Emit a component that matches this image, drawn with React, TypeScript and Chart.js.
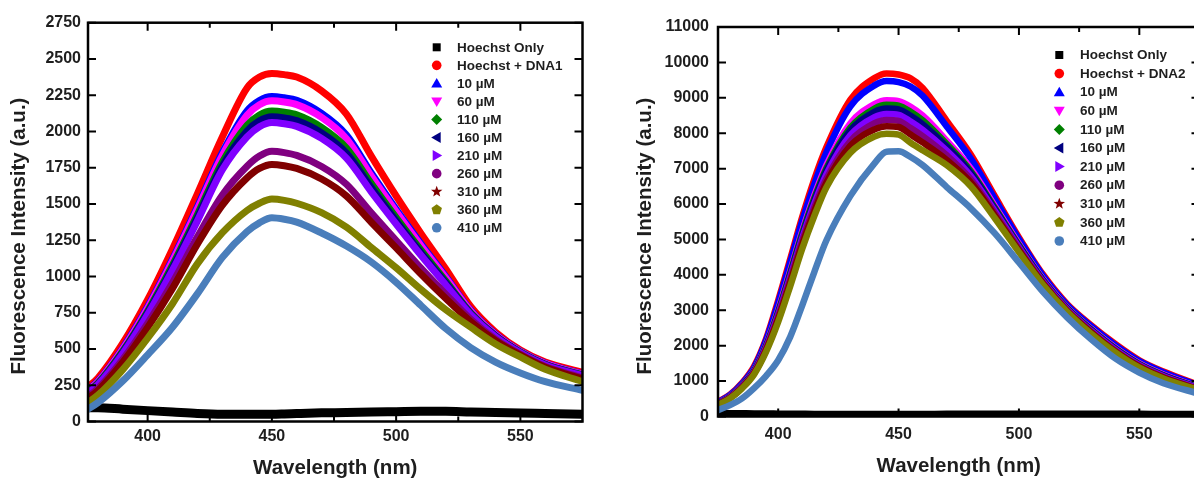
import React, { useEffect, useRef } from 'react';
import { Chart, registerables } from 'chart.js';

Chart.register(...registerables);

const FONT_FAMILY = '"Liberation Sans", Arial, Helvetica, sans-serif';
const TEXT_COLOR = '#1e1e1e';

// Wavelength grids (nm)
const WAVELENGTHS_LEFT = [375, 380, 390, 400, 410, 420, 430, 440, 445, 450, 455, 460, 470, 480, 490, 500, 510, 520, 530, 540, 550, 560, 575];
const WAVELENGTHS_RIGHT = [375, 380, 385, 390, 395, 400, 405, 410, 415, 420, 430, 440, 445, 450, 455, 460, 470, 480, 490, 500, 510, 520, 530, 540, 550, 560, 575];

const X_TICKS = [400, 450, 500, 550];
const X_MINOR_TICKS = [425, 475, 525];
const Y_TICKS_LEFT = [0, 250, 500, 750, 1000, 1250, 1500, 1750, 2000, 2250, 2500, 2750];
const Y_TICKS_RIGHT = [0, 1000, 2000, 3000, 4000, 5000, 6000, 7000, 8000, 9000, 10000, 11000];

const X_TITLE = 'Wavelength (nm)';
const Y_TITLE = 'Fluorescence Intensity (a.u.)';

const LABELS_LEFT = ['Hoechst Only', 'Hoechst + DNA1', '10 µM', '60 µM', '110 µM', '160 µM', '210 µM', '260 µM', '310 µM', '360 µM', '410 µM'];
const LABELS_RIGHT = ['Hoechst Only', 'Hoechst + DNA2', '10 µM', '60 µM', '110 µM', '160 µM', '210 µM', '260 µM', '310 µM', '360 µM', '410 µM'];

const SERIES_COLORS = ['#000000', '#ff0000', '#0000ff', '#ff00ff', '#008000', '#000080', '#8000ff', '#800080', '#800000', '#808000', '#4a7ebb'];
const SERIES_SHAPES = ['square', 'circle', 'triUp', 'triDown', 'diamond', 'triLeft', 'triRight', 'circle', 'star', 'pentagon', 'circle'];

// Left panel (DNA1)
const L_HOECHST = [95, 95, 85, 75, 65, 55, 50, 50, 50, 50, 52, 55, 60, 62, 66, 68, 70, 70, 65, 62, 58, 55, 50];
const L_DNA1 = [225, 300, 540, 840, 1190, 1570, 1960, 2300, 2375, 2400, 2392, 2375, 2280, 2120, 1830, 1555, 1297, 1052, 793, 617, 493, 410, 340];
const L_10 = [205, 278, 506, 791, 1120, 1480, 1852, 2142, 2214, 2241, 2232, 2215, 2125, 1976, 1714, 1464, 1226, 1000, 767, 602, 484, 401, 328];
const L_60 = [202, 274, 500, 782, 1108, 1465, 1834, 2112, 2184, 2211, 2203, 2185, 2097, 1950, 1693, 1447, 1213, 991, 762, 599, 483, 399, 326];
const L_110 = [194, 265, 486, 761, 1078, 1426, 1787, 2043, 2114, 2141, 2133, 2115, 2028, 1886, 1641, 1406, 1181, 967, 750, 592, 479, 395, 320];
const L_160 = [189, 259, 478, 749, 1060, 1404, 1761, 2003, 2073, 2101, 2093, 2075, 1990, 1851, 1613, 1384, 1163, 955, 744, 589, 476, 393, 318];
const L_210 = [184, 254, 469, 737, 1043, 1382, 1734, 1963, 2033, 2062, 2053, 2035, 1952, 1816, 1584, 1362, 1146, 942, 737, 585, 474, 390, 315];
const L_260 = [160, 227, 428, 676, 957, 1272, 1560, 1760, 1830, 1863, 1854, 1835, 1759, 1636, 1439, 1248, 1057, 877, 704, 566, 463, 379, 300];
const L_310 = [149, 214, 409, 648, 918, 1222, 1490, 1680, 1745, 1773, 1764, 1745, 1672, 1555, 1374, 1197, 1017, 848, 689, 558, 458, 374, 293];
const L_360 = [120, 181, 358, 574, 812, 1087, 1300, 1455, 1505, 1534, 1525, 1505, 1440, 1340, 1200, 1060, 910, 770, 650, 535, 445, 360, 275];
const L_410 = [75, 130, 280, 460, 650, 880, 1130, 1310, 1370, 1405, 1395, 1375, 1300, 1210, 1100, 960, 800, 640, 510, 410, 335, 275, 215];

// Right panel (DNA2)
const R_HOECHST = [70, 60, 55, 50, 48, 45, 42, 40, 38, 35, 35, 35, 35, 35, 35, 35, 40, 40, 40, 45, 45, 45, 40, 40, 40, 35, 35];
const R_DNA2 = [410, 620, 950, 1420, 2200, 3280, 4450, 5640, 6700, 7600, 8950, 9560, 9690, 9660, 9550, 9280, 8350, 7400, 6220, 5060, 4010, 3180, 2580, 2050, 1590, 1270, 880];
const R_10 = [400, 606, 930, 1374, 2154, 3204, 4356, 5527, 6560, 7455, 8760, 9351, 9474, 9445, 9320, 9057, 8191, 7286, 6141, 5007, 3973, 3151, 2550, 2019, 1564, 1245, 862];
const R_60 = [373, 572, 880, 1307, 2037, 3010, 4112, 5240, 6244, 7100, 8284, 8822, 8934, 8907, 8745, 8499, 7789, 7005, 5947, 4875, 3883, 3081, 2476, 1943, 1499, 1184, 818];
const R_110 = [367, 564, 871, 1293, 2011, 2967, 4054, 5177, 6164, 7008, 8161, 8699, 8804, 8778, 8607, 8366, 7695, 6929, 5894, 4840, 3858, 3062, 2456, 1923, 1481, 1168, 806];
const R_160 = [362, 557, 860, 1278, 1984, 2925, 4005, 5115, 6097, 6942, 8080, 8601, 8696, 8671, 8492, 8254, 7621, 6876, 5858, 4815, 3841, 3049, 2442, 1909, 1469, 1156, 797];
const R_210 = [355, 548, 847, 1261, 1954, 2874, 3938, 5040, 6010, 6837, 7944, 8453, 8545, 8520, 8331, 8098, 7508, 6792, 5800, 4776, 3814, 3028, 2420, 1886, 1450, 1138, 784];
const R_260 = [348, 539, 834, 1243, 1923, 2824, 3872, 4965, 5903, 6706, 7780, 8281, 8372, 8348, 8147, 7920, 7378, 6701, 5737, 4733, 3785, 3005, 2396, 1861, 1429, 1118, 770];
const R_310 = [340, 525, 816, 1220, 1881, 2755, 3787, 4865, 5796, 6600, 7645, 8110, 8200, 8175, 7963, 7741, 7247, 6610, 5674, 4691, 3755, 2982, 2372, 1837, 1408, 1098, 755];
const R_360 = [330, 510, 794, 1190, 1830, 2670, 3680, 4740, 5662, 6470, 7450, 7910, 7985, 7961, 7733, 7518, 7100, 6503, 5600, 4640, 3720, 2960, 2340, 1810, 1380, 1075, 740];
const R_410 = [180, 320, 510, 800, 1150, 1590, 2250, 3140, 4080, 4970, 6230, 7150, 7480, 7490, 7330, 7100, 6480, 5880, 5170, 4350, 3520, 2800, 2180, 1640, 1240, 940, 640];

const LEFT_SERIES = [L_HOECHST, L_DNA1, L_10, L_60, L_110, L_160, L_210, L_260, L_310, L_360, L_410];
const RIGHT_SERIES = [R_HOECHST, R_DNA2, R_10, R_60, R_110, R_160, R_210, R_260, R_310, R_360, R_410];

type PanelSpec = {
  labels: string[];
  wavelengths: number[];
  series: number[][];
  yTicks: number[];
  xMin: number;
  xMax: number;
  yMax: number;
  padding: { left: number; top: number; right: number; bottom: number };
  xAxisHeight: number;
  yAxisWidth: number;
  xTickPad: number;
  yTickPad: number;
  lineWidth: number;
  legend: { markerX: number; textX: number; y0: number; dy: number };
  yTitle: { x: number; y: number };
  xTitleY: number;
};

function drawMarker(ctx: CanvasRenderingContext2D, shape: string, x: number, y: number, color: string) {
  ctx.fillStyle = color;
  ctx.beginPath();
  switch (shape) {
    case 'square':
      ctx.rect(x - 4, y - 4, 8, 8);
      break;
    case 'circle':
      ctx.arc(x, y, 4.8, 0, Math.PI * 2);
      break;
    case 'triUp':
      ctx.moveTo(x, y - 5.5); ctx.lineTo(x + 5.5, y + 4); ctx.lineTo(x - 5.5, y + 4);
      break;
    case 'triDown':
      ctx.moveTo(x, y + 5.5); ctx.lineTo(x + 5.5, y - 4); ctx.lineTo(x - 5.5, y - 4);
      break;
    case 'triLeft':
      ctx.moveTo(x - 5.5, y); ctx.lineTo(x + 4, y - 5.5); ctx.lineTo(x + 4, y + 5.5);
      break;
    case 'triRight':
      ctx.moveTo(x + 5.5, y); ctx.lineTo(x - 4, y - 5.5); ctx.lineTo(x - 4, y + 5.5);
      break;
    case 'diamond':
      ctx.moveTo(x, y - 5.5); ctx.lineTo(x + 5.5, y); ctx.lineTo(x, y + 5.5); ctx.lineTo(x - 5.5, y);
      break;
    case 'star':
      for (let k = 0; k < 10; k++) {
        const r = k % 2 ? 2.5 : 6;
        const a = -Math.PI / 2 + (k * Math.PI) / 5;
        if (k === 0) ctx.moveTo(x + r * Math.cos(a), y + r * Math.sin(a));
        else ctx.lineTo(x + r * Math.cos(a), y + r * Math.sin(a));
      }
      break;
    case 'pentagon':
      for (let k = 0; k < 5; k++) {
        const a = -Math.PI / 2 + (k * 2 * Math.PI) / 5;
        if (k === 0) ctx.moveTo(x + 5.5 * Math.cos(a), y + 5.5 * Math.sin(a));
        else ctx.lineTo(x + 5.5 * Math.cos(a), y + 5.5 * Math.sin(a));
      }
      break;
  }
  ctx.closePath();
  ctx.fill();
}

function makeDecorPlugin(p: PanelSpec) {
  return {
    id: 'decor',
    afterDatasetsDraw(chart: any) {
      const { ctx, chartArea: a, scales } = chart;
      const xs = scales.x;
      const ys = scales.y;
      ctx.save();
      ctx.strokeStyle = '#000';
      ctx.lineWidth = 2;
      ctx.beginPath();
      for (const v of X_TICKS) {
        const px = xs.getPixelForValue(v);
        ctx.moveTo(px, a.bottom); ctx.lineTo(px, a.bottom - 8);
        ctx.moveTo(px, a.top); ctx.lineTo(px, a.top + 8);
      }
      for (const v of X_MINOR_TICKS) {
        const px = xs.getPixelForValue(v);
        ctx.moveTo(px, a.bottom); ctx.lineTo(px, a.bottom - 5);
        ctx.moveTo(px, a.top); ctx.lineTo(px, a.top + 5);
      }
      for (const v of p.yTicks) {
        const py = ys.getPixelForValue(v);
        ctx.moveTo(a.left, py); ctx.lineTo(a.left + 8, py);
        ctx.moveTo(a.right, py); ctx.lineTo(a.right - 8, py);
      }
      ctx.stroke();
      ctx.lineWidth = 2.5;
      ctx.strokeRect(a.left, a.top, a.right - a.left, a.bottom - a.top);

      ctx.fillStyle = TEXT_COLOR;
      ctx.font = `bold 20.5px ${FONT_FAMILY}`;
      ctx.textAlign = 'center';
      ctx.textBaseline = 'middle';
      ctx.fillText(X_TITLE, (a.left + a.right) / 2, p.xTitleY);
      ctx.save();
      ctx.translate(p.yTitle.x, p.yTitle.y);
      ctx.rotate(-Math.PI / 2);
      ctx.fillText(Y_TITLE, 0, 0);
      ctx.restore();

      ctx.font = `bold 13.5px ${FONT_FAMILY}`;
      ctx.textAlign = 'left';
      ctx.textBaseline = 'middle';
      chart.data.datasets.forEach((ds: any, i: number) => {
        const y = p.legend.y0 + i * p.legend.dy;
        drawMarker(ctx, SERIES_SHAPES[i], p.legend.markerX, y, SERIES_COLORS[i]);
        ctx.fillStyle = TEXT_COLOR;
        ctx.fillText(ds.label, p.legend.textX, y + 0.5);
      });
      ctx.restore();
    },
  };
}

function makeChart(canvas: HTMLCanvasElement, p: PanelSpec) {
  const n = p.series.length;
  const datasets = p.series.map((vals, i) => ({
    label: p.labels[i],
    data: p.wavelengths.map((x, j) => ({ x, y: vals[j] })),
    borderColor: SERIES_COLORS[i],
    backgroundColor: SERIES_COLORS[i],
    borderWidth: i === 0 ? 9 : p.lineWidth,
    pointRadius: 0,
    pointHoverRadius: 0,
    cubicInterpolationMode: 'monotone' as const,
    fill: false,
    order: n - i,
    borderCapStyle: 'round' as const,
    borderJoinStyle: 'round' as const,
  }));
  const tickFont = { family: FONT_FAMILY, size: 16, weight: 'bold' as const };
  return new Chart(canvas, {
    type: 'line',
    data: { datasets },
    options: {
      animation: false,
      responsive: false,
      maintainAspectRatio: false,
      devicePixelRatio: 1,
      events: [],
      layout: { padding: p.padding },
      plugins: {
        legend: { display: false },
        tooltip: { enabled: false },
        title: { display: false },
      },
      scales: {
        x: {
          type: 'linear',
          min: p.xMin,
          max: p.xMax,
          grid: { display: false, drawTicks: false },
          border: { display: false },
          ticks: { padding: p.xTickPad, color: TEXT_COLOR, font: tickFont, maxRotation: 0, callback: (v: number) => String(v) },
          afterBuildTicks: (s: any) => { s.ticks = X_TICKS.map((v) => ({ value: v })); },
          afterFit: (s: any) => { s.height = p.xAxisHeight; },
        },
        y: {
          type: 'linear',
          min: 0,
          max: p.yMax,
          grid: { display: false, drawTicks: false },
          border: { display: false },
          ticks: { padding: p.yTickPad, color: TEXT_COLOR, font: tickFont, callback: (v: number) => String(v) },
          afterBuildTicks: (s: any) => { s.ticks = p.yTicks.map((v) => ({ value: v })); },
          afterFit: (s: any) => { s.width = p.yAxisWidth; },
        },
      },
    } as any,
    plugins: [makeDecorPlugin(p)],
  });
}

const LEFT_PANEL: PanelSpec = {
  labels: LABELS_LEFT,
  wavelengths: WAVELENGTHS_LEFT,
  series: LEFT_SERIES,
  yTicks: Y_TICKS_LEFT,
  xMin: 376,
  xMax: 575,
  yMax: 2750,
  padding: { left: 0, top: 22.7, right: 17.5, bottom: 0 },
  xAxisHeight: 59.5,
  yAxisWidth: 88,
  xTickPad: 5,
  yTickPad: 7,
  lineWidth: 7,
  legend: { markerX: 436.7, textX: 457, y0: 47.3, dy: 18.05 },
  yTitle: { x: 19, y: 236 },
  xTitleY: 468,
};

const RIGHT_PANEL: PanelSpec = {
  labels: LABELS_RIGHT,
  wavelengths: WAVELENGTHS_RIGHT,
  series: RIGHT_SERIES,
  yTicks: Y_TICKS_RIGHT,
  xMin: 375,
  xMax: 575,
  yMax: 11000,
  padding: { left: 0, top: 27, right: 20.5, bottom: 0 },
  xAxisHeight: 64.5,
  yAxisWidth: 118,
  xTickPad: 8,
  yTickPad: 9,
  lineWidth: 6.5,
  legend: { markerX: 459.3, textX: 480, y0: 55, dy: 18.6 },
  yTitle: { x: 45, y: 236 },
  xTitleY: 466,
};

export default function App() {
  const leftRef = useRef<HTMLCanvasElement | null>(null);
  const rightRef = useRef<HTMLCanvasElement | null>(null);

  useEffect(() => {
    const charts: Chart[] = [];
    if (leftRef.current) charts.push(makeChart(leftRef.current, LEFT_PANEL));
    if (rightRef.current) charts.push(makeChart(rightRef.current, RIGHT_PANEL));
    return () => charts.forEach((c) => c.destroy());
  }, []);

  return (
    <div style={{ position: 'absolute', left: 0, top: 0, width: 1194, height: 481, overflow: 'hidden', background: '#ffffff' }}>
      <canvas ref={leftRef} width={600} height={481} style={{ position: 'absolute', left: 0, top: 0, width: 600, height: 481 }} />
      <canvas ref={rightRef} width={620} height={481} style={{ position: 'absolute', left: 600, top: 0, width: 620, height: 481 }} />
    </div>
  );
}
